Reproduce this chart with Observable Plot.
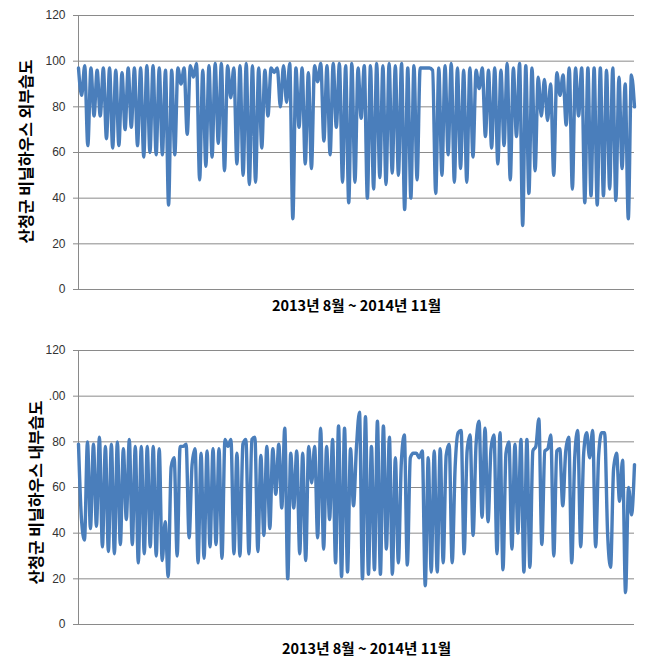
<!DOCTYPE html>
<html><head><meta charset="utf-8">
<script src="https://cdn.jsdelivr.net/npm/d3@7"></script>
<script src="https://cdn.jsdelivr.net/npm/@observablehq/plot@0.6"></script>
<style>
body{margin:0;background:#fff;}
#chart{width:648px;}
#chart svg{display:block;}
</style></head><body><div id="chart"></div><script>
const xLabel = "2013년 8월 ~ 2014년 11월";
const topTitle = "산청군 비닐하우스 외부습도";
const bottomTitle = "산청군 비닐하우스 내부습도";
const yTicks = [0, 20, 40, 60, 80, 100, 120];
const topTickLabels = ["0", "20", "40", "60", "80", "100", "120"];
const bottomTickLabels = ["0", "20", "40", "60", "80", ".00", "120"];

const outsideHumidity = [
  97, 85, 98, 63, 97, 76, 96, 76, 97, 66, 97, 62, 96, 63, 95, 70, 97, 71, 97, 63,
  97, 58, 98, 60, 98, 59, 97, 59, 96, 37, 96, 59, 97, 90, 97, 68, 98, 93, 99, 48,
  96, 54, 98, 58, 99, 64, 99, 52, 98, 84, 97, 55, 98, 50, 99, 46, 98, 47, 97, 62,
  96, 76, 97, 95, 97, 80, 98, 82, 99, 31,
  97, 71, 97, 55, 95, 53, 98, 91, 99, 65, 98, 59, 99, 71, 99, 47, 98, 38, 99, 47,
  97, 75, 98, 40, 98, 44, 99, 49, 98, 46, 99, 51, 98, 50, 99, 35, 97, 40, 98, 48,
  97, 97, 97, 97, 96, 42,
  97, 50, 98, 59, 99, 47, 97, 53, 96, 47, 97, 58, 96, 88, 97, 67, 96, 62, 97, 55,
  96, 63, 99, 48, 97, 67, 99, 28, 98, 42, 97, 52, 93, 76, 92, 74, 90, 50, 95, 85,
  94, 72, 97, 44, 97, 76, 97, 38, 97, 41, 97, 37, 97, 41, 96, 44, 97, 39, 93, 53,
  90, 31, 94, 80
];

// 내부습도 (inside humidity)
const insideHumidity = [
  79, 46, 37, 80, 42, 79, 43, 82, 34, 78, 32, 79, 31, 80, 35, 77, 46, 81, 35, 78,
  27, 78, 31, 78, 34, 78, 30, 77, 28, 45, 21, 69, 73, 30, 78, 78, 79, 38, 70, 77,
  27, 75, 29, 76, 34, 77, 35, 77, 29, 81, 78, 81, 31, 75, 30, 79, 81, 31, 81,
  82, 32, 74, 39, 78, 42, 77, 57, 79, 51, 86, 20, 75, 51, 76, 31, 75, 28, 78, 62,
  78, 38, 86, 33, 78, 46, 81, 27, 87, 21, 86, 23, 77, 52, 78, 93, 20, 91, 22, 78,
  24, 89, 22, 87, 33, 82, 22, 73, 27, 71, 83, 26, 73, 75, 75, 73, 76, 17,
  73, 23, 76, 23, 77, 27, 74, 79, 27, 69, 84, 85, 31, 76, 83, 39, 79, 89, 47, 86,
  45, 77, 83, 31, 84, 24, 75, 80, 33, 79, 40, 81, 23, 81, 25, 76, 78, 90, 35, 76,
  77, 83, 30, 76, 77, 52, 76, 82, 27, 73, 85, 34, 75, 84, 73, 85, 34, 74, 84, 84,
  40, 25, 68, 75, 54, 72, 14, 60, 48, 70
];

const korean = "'Noto Sans CJK KR', 'Noto Sans', sans-serif";

function panel(values, title, tickLabels, o) {
  return Plot.plot({
    width: 648,
    height: o.height,
    marginLeft: 78,
    marginRight: 14,
    marginTop: o.mt,
    marginBottom: o.mb,
    style: {fontFamily: "'Liberation Sans', Arial, sans-serif", fontSize: "12px", background: "#fff", overflow: "visible"},
    x: {axis: null, domain: [0, values.length - 1]},
    y: {domain: [0, 120], label: null},
    marks: [
      Plot.ruleY(yTicks, {stroke: "#8a8a8a", strokeWidth: 1}),
      Plot.ruleX([0], {stroke: "#8a8a8a", strokeWidth: 1}),
      Plot.axisY({ticks: yTicks, tickSize: 5, tickPadding: 8, stroke: "#8a8a8a", fill: "#333",
        tickFormat: d => tickLabels[yTicks.indexOf(d)], label: null}),
      Plot.lineY(values, {stroke: "#4a7ebb", strokeWidth: 3.4, curve: "monotone-x",
        strokeLinejoin: "round", strokeLinecap: "round"}),
      Plot.text([xLabel], {text: d => d, frameAnchor: "bottom", dy: o.xdy, dx: o.xdx,
        fontWeight: "bold", fontSize: 14.5, fontFamily: korean, fill: "#000"}),
      Plot.text([title], {text: d => d, frameAnchor: "left", textAnchor: "middle", rotate: -90, dx: o.tdx, dy: o.tdy,
        fontWeight: "bold", fontSize: 16, fontFamily: korean, fill: "#000"})
    ]
  });
}

const chart = document.getElementById("chart");
chart.appendChild(panel(outsideHumidity, topTitle, topTickLabels,
  {height: 325, mt: 15, mb: 36, xdy: 21, xdx: 0, tdx: -52, tdy: -1}));
chart.appendChild(panel(insideHumidity, bottomTitle, bottomTickLabels,
  {height: 342, mt: 25, mb: 43, xdy: 29, xdx: 10, tdx: -42, tdy: 5}));
</script></body></html>
